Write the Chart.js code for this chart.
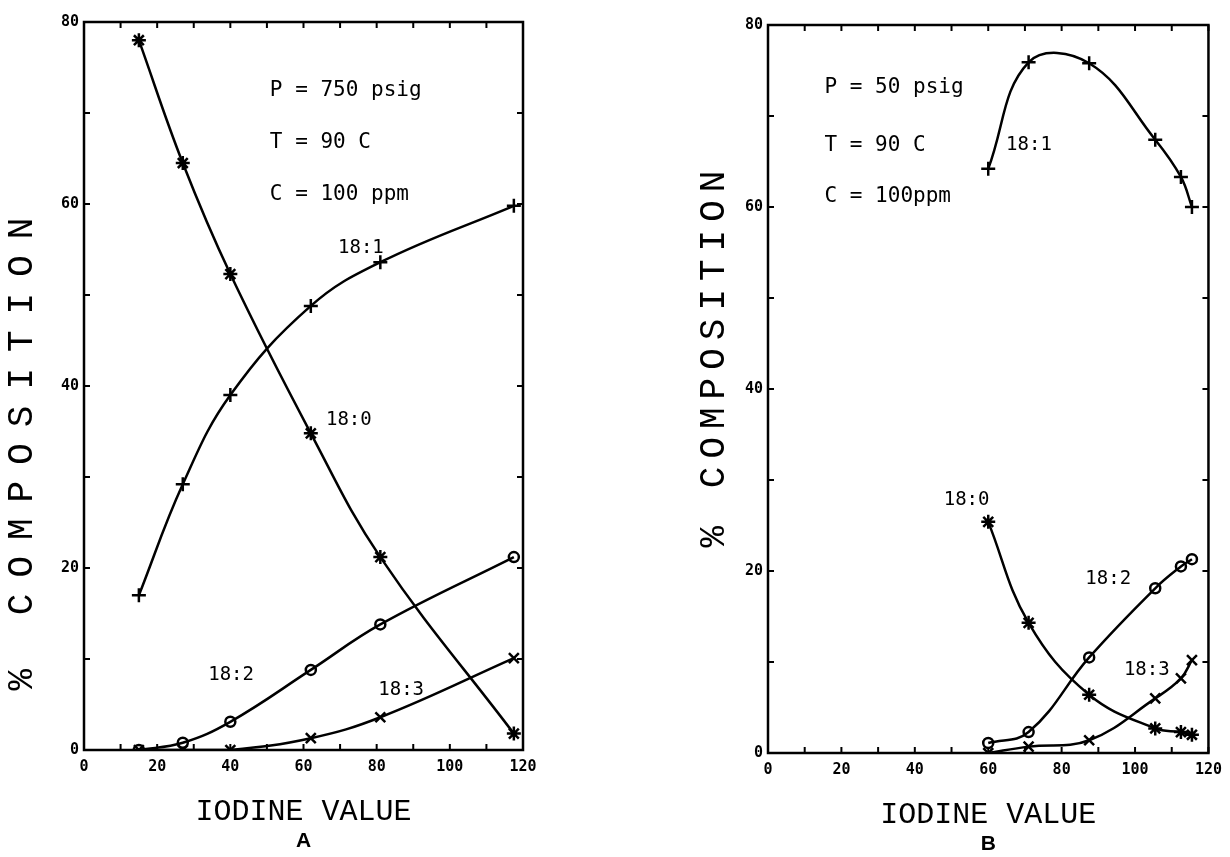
<!DOCTYPE html>
<html>
<head>
<meta charset="utf-8">
<script src="https://cdn.jsdelivr.net/npm/chart.js@4"></script>
<style>
  body { margin: 0; background: #fff; }
  .wrap { display: flex; width: 1230px; height: 857px; }
  canvas { display: block; }
</style>
</head>
<body>
<div class="wrap">
  <canvas id="chartA" width="615" height="857"></canvas>
  <canvas id="chartB" width="615" height="857"></canvas>
</div>
<script>
// panel A : P = 750 psig
const iodineA = [15, 27, 40, 62, 81, 117.5];
const c180A = [78, 64.5, 52.3, 34.8, 21.2, 1.8];
const c181A = [17, 29.2, 39, 48.8, 53.6, 59.8];
const c182A = [0, 0.8, 3.1, 8.8, 13.8, 21.2];
const c183A = [0, 0, 0, 1.3, 3.6, 10.1];

// panel B : P = 50 psig
const iodineB = [60, 71, 87.5, 105.5, 112.5, 115.5];
const c180B = [25.4, 14.3, 6.4, 2.7, 2.3, 2.0];
const c181B = [64.2, 75.9, 75.8, 67.4, 63.3, 60.0];
const c182B = [1.1, 2.3, 10.5, 18.1, 20.5, 21.3];
const c183B = [0, 0.7, 1.4, 6.0, 8.2, 10.2];

const xTicks = [0, 20, 40, 60, 80, 100, 120];
const yTicks = [0, 20, 40, 60, 80];

const noteFont = '21px "DejaVu Sans Mono"';
const tagFont = '19px "DejaVu Sans Mono"';

function pts(xs, ys) {
  return xs.map((v, i) => ({ x: v, y: ys[i] }));
}

function series(xs, ys, style, r) {
  return {
    data: pts(xs, ys),
    borderColor: '#000',
    borderWidth: 2.5,
    backgroundColor: 'rgba(0,0,0,0)',
    pointStyle: style,
    pointRadius: r,
    pointBorderWidth: 2.5,
    pointBorderColor: '#000',
    tension: 0.4
  };
}

// box, inward ticks, notes and axis titles
const frame = {
  id: 'frame',
  afterDraw(chart, args, opts) {
    const { ctx, chartArea: a, scales: { x, y } } = chart;
    ctx.save();
    ctx.strokeStyle = '#000';
    ctx.lineWidth = 2.5;
    ctx.strokeRect(a.left, a.top, a.right - a.left, a.bottom - a.top);
    ctx.lineWidth = 2;
    ctx.beginPath();
    for (let v = 0; v <= 120; v += 10) {
      const px = x.getPixelForValue(v);
      ctx.moveTo(px, a.bottom); ctx.lineTo(px, a.bottom - 6);
      ctx.moveTo(px, a.top); ctx.lineTo(px, a.top + 6);
    }
    for (let v = 0; v <= 80; v += 10) {
      const py = y.getPixelForValue(v);
      ctx.moveTo(a.left, py); ctx.lineTo(a.left + 6, py);
      ctx.moveTo(a.right, py); ctx.lineTo(a.right - 6, py);
    }
    ctx.stroke();

    ctx.fillStyle = '#000';
    ctx.textBaseline = 'middle';
    opts.notes.forEach(n => {
      ctx.font = n.font;
      ctx.textAlign = n.align;
      ctx.fillText(n.text, x.getPixelForValue(n.x), y.getPixelForValue(n.y));
    });

    // y title
    ctx.save();
    ctx.translate(a.left - opts.yTitle.dx, (a.top + a.bottom) / 2 + opts.yTitle.dy);
    ctx.rotate(-Math.PI / 2);
    ctx.font = '36px "Liberation Mono"';
    ctx.letterSpacing = opts.yTitle.spacing + 'px';
    ctx.textAlign = 'center';
    ctx.fillText('% COMPOSITION', 0, 0);
    ctx.restore();

    // x title and panel letter
    const cx = (a.left + a.right) / 2;
    ctx.font = '30px "Liberation Mono"';
    ctx.textAlign = 'center';
    ctx.fillText('IODINE VALUE', cx, a.bottom + 62);
    ctx.font = 'bold 21px "Liberation Sans"';
    ctx.fillText(opts.letter, cx, a.bottom + 91);
    ctx.restore();
  }
};

function makeChart(id, xs, s0, s1, s2, s3, box, frameOpts) {
  const ctx = document.getElementById(id).getContext('2d');
  return new Chart(ctx, {
    type: 'line',
    data: {
      datasets: [
        series(xs, s0, 'star', 7),
        series(xs, s1, 'cross', 7),
        series(xs, s2, 'circle', 5),
        series(xs, s3, 'crossRot', 7)
      ]
    },
    options: {
      responsive: false,
      animation: false,
      layout: { padding: { left: 0, right: box.right, top: box.top, bottom: 0 } },
      plugins: {
        legend: { display: false },
        tooltip: { enabled: false },
        frame: frameOpts
      },
      scales: {
        x: {
          type: 'linear',
          min: 0,
          max: 120,
          afterFit: s => { s.height = box.xh; },
          afterBuildTicks: s => { s.ticks = xTicks.map(v => ({ value: v })); },
          grid: { display: false, drawTicks: false },
          border: { display: false },
          ticks: { color: '#000', padding: 8, font: { family: 'DejaVu Sans Mono', weight: 'bold', size: 15 } }
        },
        y: {
          min: 0,
          max: 80,
          afterFit: s => { s.width = box.yw; },
          afterBuildTicks: s => { s.ticks = yTicks.map(v => ({ value: v })); },
          grid: { display: false, drawTicks: false },
          border: { display: false },
          ticks: { color: '#000', padding: 5, font: { family: 'DejaVu Sans Mono', weight: 'bold', size: 15 } }
        }
      }
    },
    plugins: [frame]
  });
}

const chartA = makeChart('chartA', iodineA, c180A, c181A, c182A, c183A,
  { right: 92, top: 22, xh: 107, yw: 84 },
  {
    letter: 'A',
    yTitle: { dx: 62, dy: 60, spacing: 16 },
    notes: [
      { text: 'P = 750 psig', x: 50.8, y: 72.5, font: noteFont, align: 'left' },
      { text: 'T = 90 C', x: 50.8, y: 66.7, font: noteFont, align: 'left' },
      { text: 'C = 100 ppm', x: 50.8, y: 61.0, font: noteFont, align: 'left' },
      { text: '18:1', x: 75.7, y: 55.2, font: tagFont, align: 'center' },
      { text: '18:0', x: 72.4, y: 36.3, font: tagFont, align: 'center' },
      { text: '18:2', x: 40.2, y: 8.2, font: tagFont, align: 'center' },
      { text: '18:3', x: 86.7, y: 6.6, font: tagFont, align: 'center' }
    ]
  });

const chartB = makeChart('chartB', iodineB, c180B, c181B, c182B, c183B,
  { right: 18, top: 25, xh: 104, yw: 153 },
  {
    letter: 'B',
    yTitle: { dx: 54, dy: -34, spacing: 8 },
    notes: [
      { text: 'P = 50 psig', x: 15.4, y: 73.1, font: noteFont, align: 'left' },
      { text: 'T = 90 C', x: 15.4, y: 66.7, font: noteFont, align: 'left' },
      { text: 'C = 100ppm', x: 15.4, y: 61.1, font: noteFont, align: 'left' },
      { text: '18:1', x: 71.1, y: 66.8, font: tagFont, align: 'center' },
      { text: '18:0', x: 54.1, y: 27.8, font: tagFont, align: 'center' },
      { text: '18:2', x: 92.7, y: 19.1, font: tagFont, align: 'center' },
      { text: '18:3', x: 103.2, y: 9.1, font: tagFont, align: 'center' }
    ]
  });
</script>
</body>
</html>
